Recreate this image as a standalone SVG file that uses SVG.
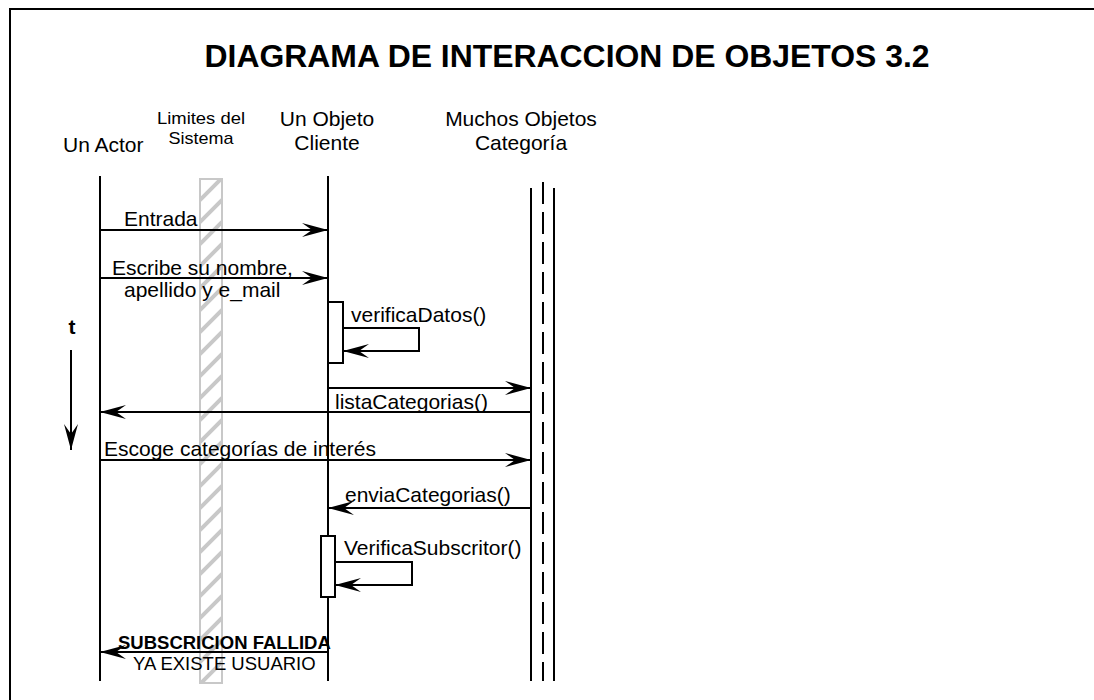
<svg xmlns="http://www.w3.org/2000/svg" width="1094" height="700" viewBox="0 0 1094 700">
<style>
text{font-family:"Liberation Sans",Arial,sans-serif;fill:#000}
.ln{stroke:#000;stroke-width:2;fill:none}
.msg{stroke:#000;stroke-width:2;fill:none;marker-end:url(#ah)}
.act{fill:#fff;stroke:#000;stroke-width:2}
.h{font-size:21px}
.hs{font-size:17px}
.m{font-size:21px}
</style>
<defs>
<marker id="ah" markerUnits="userSpaceOnUse" markerWidth="30" markerHeight="18" refX="26" refY="8" orient="auto" overflow="visible">
<path d="M26,8 L0,1 L10,8 L0,15 Z" fill="#000"/>
</marker>
<pattern id="hatch" patternUnits="userSpaceOnUse" width="22" height="22" x="200" y="178">
<rect width="22" height="22" fill="#fff"/>
<path d="M-4,26 L26,-4 M-15,15 L15,-15 M7,37 L37,7" stroke="#c8c8c8" stroke-width="4"/>
</pattern>
</defs>
<rect width="1094" height="700" fill="#fff"/>
<g id="frame"><path d="M10,700 L10,9 L1094,9" stroke="#000" stroke-width="2" fill="none"/></g>
<g id="title"><text x="567" y="67" font-size="32" font-weight="bold" text-anchor="middle" textLength="725" lengthAdjust="spacingAndGlyphs">DIAGRAMA DE INTERACCION DE OBJETOS 3.2</text></g>
<g id="actor">
<text class="h" x="63" y="152">Un Actor</text>
<line class="ln" x1="100" y1="176" x2="100" y2="681"/>
</g>
<g id="limites">
<text class="hs" x="201" y="124" text-anchor="middle" textLength="88" lengthAdjust="spacingAndGlyphs">Limites del</text>
<text class="hs" x="201" y="144" text-anchor="middle" textLength="65" lengthAdjust="spacingAndGlyphs">Sistema</text>
<rect x="200" y="179" width="22" height="504" fill="url(#hatch)" stroke="#c8c8c8" stroke-width="2"/>
</g>
<g id="cliente">
<text class="h" x="327" y="126" text-anchor="middle">Un Objeto</text>
<text class="h" x="327" y="150" text-anchor="middle">Cliente</text>
<line class="ln" x1="328" y1="176" x2="328" y2="681"/>
</g>
<g id="categoria">
<text class="h" x="521" y="126" text-anchor="middle">Muchos Objetos</text>
<text class="h" x="521" y="150" text-anchor="middle">Categoría</text>
<line class="ln" x1="531" y1="188" x2="531" y2="681"/>
<line class="ln" x1="554" y1="188" x2="554" y2="681"/>
<line x1="543" y1="182" x2="543" y2="681" stroke="#000" stroke-width="2" stroke-dasharray="22,8"/>
</g>
<g id="time">
<text x="72" y="334" font-size="21" font-weight="bold" text-anchor="middle">t</text>
<line class="msg" x1="71" y1="350" x2="71" y2="450"/>
</g>
<g id="activation1"><rect class="act" x="328" y="302" width="15" height="61"/></g>
<g id="activation2"><rect class="act" x="321" y="536" width="14" height="61"/></g>
<g id="connectors">
<line class="msg" x1="100" y1="230" x2="328" y2="230"/>
<line class="msg" x1="100" y1="278" x2="328" y2="278"/>
<path class="msg" d="M343,328 L419,328 L419,351 L343,351"/>
<line class="msg" x1="328" y1="388" x2="531" y2="388"/>
<line class="msg" x1="531" y1="412" x2="100" y2="412"/>
<line class="msg" x1="100" y1="460" x2="531" y2="460"/>
<line class="msg" x1="531" y1="508" x2="328" y2="508"/>
<path class="msg" d="M335,562 L412,562 L412,585 L335,585"/>
<line class="msg" x1="328" y1="652" x2="100" y2="652"/>
</g>
<g id="labels">
<text class="m" x="124" y="226">Entrada</text>
<text class="m" x="112" y="275">Escribe su nombre,</text>
<text class="m" x="124" y="297">apellido y e_mail</text>
<text class="m" x="351" y="322">verificaDatos()</text>
<text class="m" x="335" y="409">listaCategorias()</text>
<text class="m" x="104" y="456">Escoge categorías de interés</text>
<text class="m" x="345" y="502">enviaCategorias()</text>
<text class="m" x="344" y="555">VerificaSubscritor()</text>
<text x="118" y="649" font-size="18.5" font-weight="bold">SUBSCRICION FALLIDA</text>
<text x="133" y="670" font-size="18.5">YA EXISTE USUARIO</text>
</g>
</svg>
